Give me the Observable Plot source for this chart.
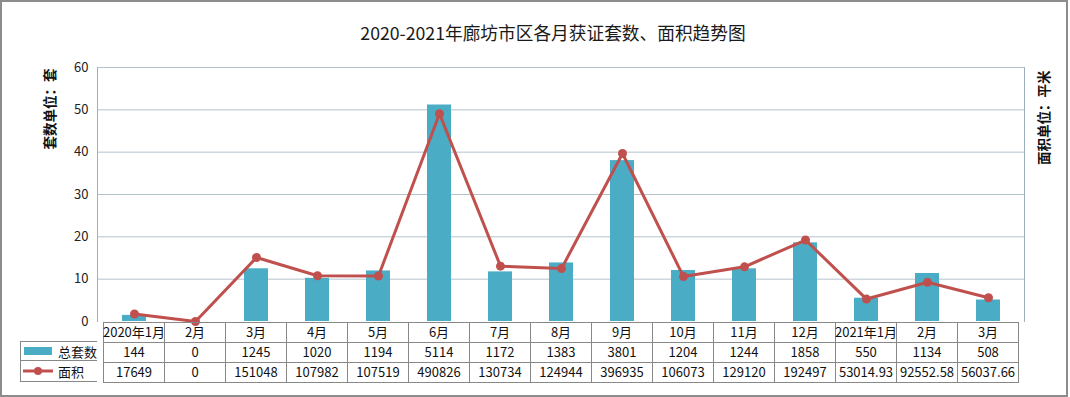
<!DOCTYPE html>
<html>
<head>
<meta charset="utf-8">
<script src="https://cdn.jsdelivr.net/npm/d3@7"></script>
<script src="https://cdn.jsdelivr.net/npm/@observablehq/plot@0.6"></script>
<style>
  body { margin: 0; background: #fff; font-family: "Noto Sans CJK SC", "Noto Sans", sans-serif; }
  #wrap { position: relative; width: 1070px; height: 397px; overflow: hidden; }
  #border { position: absolute; left: 0; top: 0; width: 1064px; height: 393px; border: 2px solid #8c8c8c; }
  #title { position: absolute; left: 18px; top: 19px; width: 1070px; text-align: center; font-size: 17.7px; color: #1a1a1a; }
  #main { position: absolute; left: 0; top: 55px; }
  #table { position: absolute; left: 0; top: 321px; }
  #legend { position: absolute; left: 20px; top: 341px; width: 77px; font-size: 13px; color: #111; }
  #legend .row { height: 20px; box-sizing: border-box; border: 1px solid #888; border-right: none; display: flex; align-items: center; }
  #legend .row + .row { border-top: none; height: 21px; }
  #legend svg { margin-left: 2px; margin-right: 5px; }
</style>
</head>
<body>
<div id="wrap">
  <div id="border"></div>
  <div id="title">2020-2021年廊坊市区各月获证套数、面积趋势图</div>
  <div id="main"></div>
  <div id="table"></div>
  <div id="legend">
    <div class="row"><svg width="30" height="10"><rect x="1" y="1" width="28" height="8" fill="#4bacc6"></rect></svg>总套数</div>
    <div class="row"><svg width="30" height="10"><line x1="0" y1="5" x2="30" y2="5" stroke="#c0504d" stroke-width="3"></line><circle cx="15" cy="5" r="4" fill="#c0504d"></circle></svg>面积</div>
  </div>
</div>
<script>
const months = ["2020年1月","2月","3月","4月","5月","6月","7月","8月","9月","10月","11月","12月","2021年1月","2月","3月"];
const counts = [144, 0, 1245, 1020, 1194, 5114, 1172, 1383, 3801, 1204, 1244, 1858, 550, 1134, 508];
const areas = [17649, 0, 151048, 107982, 107519, 490826, 130734, 124944, 396935, 106073, 129120, 192497, 53014.93, 92552.58, 56037.66];
const yTicks = [0, 10, 20, 30, 40, 50, 60];
const leftLabel = "套数单位：套";
const rightLabel = "面积单位：平米";

const idx = d3.range(months.length);
const data = idx.map(i => ({i, count: counts[i], area: areas[i]}));

const font = '"Noto Sans CJK SC", "Noto Sans", sans-serif';

const main = Plot.plot({
  width: 1070, height: 267,
  marginTop: 12, marginBottom: 1, marginLeft: 97, marginRight: 46,
  style: {fontFamily: font, fontSize: "13px", color: "#222", background: "transparent", overflow: "visible"},
  x: {type: "band", domain: idx, paddingInner: 0.61, paddingOuter: 0.305, axis: null},
  y: {domain: [0, 60]},
  marks: [
    Plot.gridY(yTicks.filter(d => d > 0), {stroke: "#b4c2cc", strokeOpacity: 1}),
    Plot.axisY(yTicks, {tickSize: 0, tickPadding: 9, fontSize: 13, label: null, fill: "#222"}),
    Plot.frame({anchor: "left", stroke: "#9fb0bd"}),
    Plot.frame({anchor: "right", stroke: "#9fb0bd"}),
    Plot.barY(data, {x: "i", y: d => d.count / 100, fill: "#4bacc6"}),
    Plot.line(data, {x: "i", y: d => d.area / 10000, stroke: "#c0504d", strokeWidth: 3}),
    Plot.dot(data, {x: "i", y: d => d.area / 10000, r: 4.5, fill: "#c0504d"}),
    Plot.text([leftLabel], {frameAnchor: "top-left", text: d => d, rotate: -90, textAnchor: "end", dx: -52, dy: 1, fontSize: 13.5, fontWeight: "bold", fill: "#111"}),
    Plot.text([rightLabel], {frameAnchor: "top-right", text: d => d, rotate: -90, textAnchor: "end", dx: 15, dy: 3, fontSize: 13.5, fontWeight: "bold", fill: "#111"})
  ]
});
document.getElementById("main").append(main);

const rowKeys = ["cat", "count", "area"];
const cells = idx.flatMap(i => [
  {i, row: "cat", label: months[i]},
  {i, row: "count", label: String(counts[i])},
  {i, row: "area", label: String(areas[i])}
]);

const table = Plot.plot({
  width: 1070, height: 62,
  marginTop: 0, marginBottom: 1, marginLeft: 97, marginRight: 46,
  style: {fontFamily: font, fontSize: "13px", background: "transparent"},
  x: {type: "band", domain: idx, padding: 0, axis: null},
  y: {type: "band", domain: rowKeys, padding: 0, axis: null},
  marks: [
    Plot.cell(cells, {x: "i", y: "row", fill: "none", stroke: "#888", inset: 0, shapeRendering: "crispEdges"}),
    Plot.text(cells, {x: "i", y: "row", text: "label", fontSize: 13, fill: "#111"})
  ]
});
document.getElementById("table").append(table);
</script>
</body>
</html>
